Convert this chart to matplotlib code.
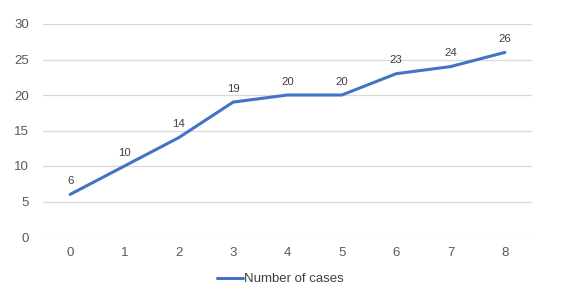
import matplotlib
matplotlib.use("Agg")
import matplotlib.pyplot as plt

plt.rcParams['font.family'] = ['Liberation Sans', 'DejaVu Sans']

categories = [0, 1, 2, 3, 4, 5, 6, 7, 8]
cases = [6, 10, 14, 19, 20, 20, 23, 24, 26]
yticks = [0, 5, 10, 15, 20, 25, 30]

fig = plt.figure(figsize=(5.61, 2.9), dpi=100)
ax = fig.add_axes([43/561, 53/290, (532-43)/561, (237-24)/290])

ax.plot(categories, cases, color='#4472C4', lw=2.2, solid_joinstyle='round',
        solid_capstyle='round', label='Number of cases', zorder=3)
for x, y in zip(categories, cases):
    ax.annotate(str(y), (x, y), xytext=(0, 6), textcoords='offset points',
                ha='center', va='bottom', fontsize=8.2, color='#404040')

ax.set_xlim(-0.5, 8.5)
ax.set_ylim(0, 30)
ax.set_yticks(yticks)
ax.set_xticks(categories)
ax.grid(axis='y', color='#D9D9D9', lw=0.9)
ax.set_axisbelow(True)
for s in ax.spines.values():
    s.set_visible(False)
ax.tick_params(length=0, labelsize=9.5, labelcolor='#595959')
ax.tick_params(axis='y', pad=10)
ax.tick_params(axis='x', pad=7)

fig.legend(loc='lower center', bbox_to_anchor=(0.5, -0.025), frameon=False,
           fontsize=9.5, handlelength=2.0, handletextpad=0.1,
           labelcolor='#404040')

fig.savefig('out.png', dpi=100)
